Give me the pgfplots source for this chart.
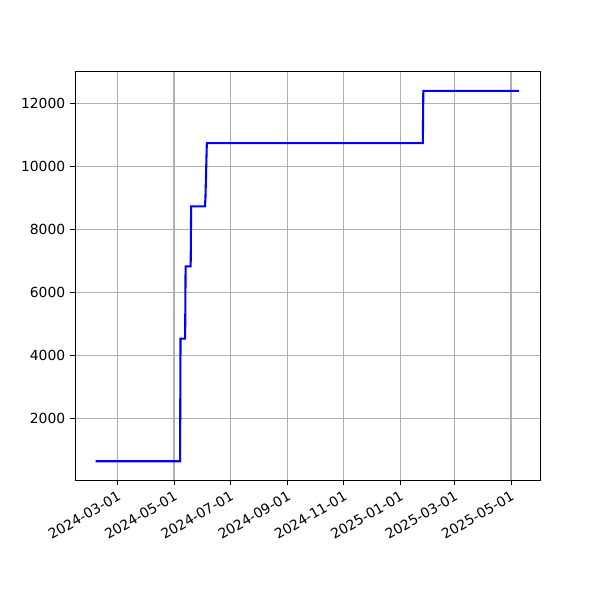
\documentclass[border=0pt]{standalone}
\usepackage{pgfplots}
\pgfplotsset{compat=1.18}
\usepackage{fontspec}
\setmainfont{DejaVu Sans}
\begin{document}
\begin{tikzpicture}
\begin{axis}[
  scale only axis,
  width=334.8pt, height=293.8pt,
  xmin=-46.3, xmax=457.4, ymin=40, ymax=13000,
  xtick={0,61,122,184,245,306,365,426},
  xticklabels={2024-03-01,2024-05-01,2024-07-01,2024-09-01,2024-11-01,2025-01-01,2025-03-01,2025-05-01},
  xticklabel style={rotate=30, anchor=north east, inner sep=1pt, yshift=-2pt, xshift=-1.5pt},
  ytick={2000,4000,6000,8000,10000,12000},
  scaled y ticks=false,
  /pgf/number format/1000 sep={},
  /pgf/number format/assume math mode=true,
  tick label style={font=\fontsize{10}{12}\selectfont},
  grid=major,
  major grid style={color=black!31, line width=0.8pt},
  tick align=outside, tick pos=left,
  major tick length=3.5pt,
  every tick/.style={black, line width=0.7pt},
  axis line style={line width=0.7pt},
]
\addplot[blue, line width=1.5pt, mark=none] coordinates {
(-24,635)(67.5,635)(68,4530)(73,4530)(73.5,6825)(79,6825)(79.5,8730)(94.5,8730)(95,9000)(96.5,10740)(330.5,10740)(331,12400)(434.6,12400)
};
\end{axis}
\path[use as bounding box] (current axis.south west) ++(-54pt,-86.4pt) rectangle ++(432pt,432pt);
\end{tikzpicture}
\end{document}
